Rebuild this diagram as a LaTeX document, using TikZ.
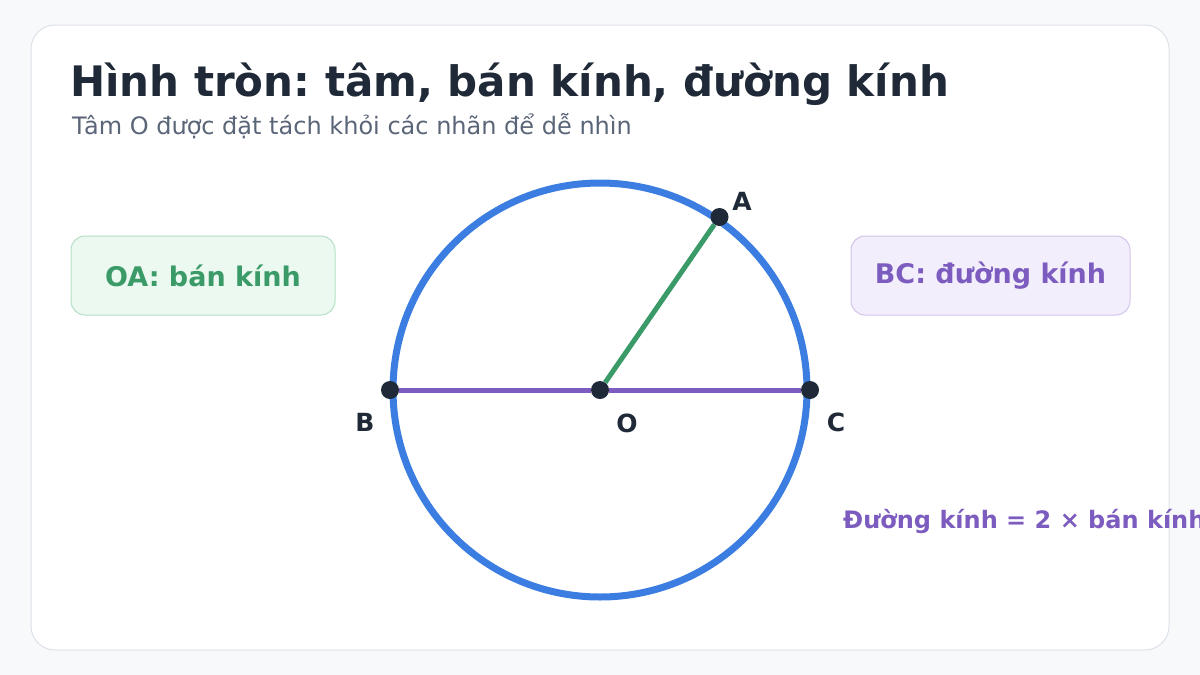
\documentclass[tikz,border=0pt]{standalone}
\usepackage{fontspec}
\setmainfont{DejaVu Sans}
\usetikzlibrary{positioning}
\frenchspacing
\definecolor{pagebg}{HTML}{F8F9FB}
\definecolor{cardline}{HTML}{DDE2EA}
\definecolor{ink}{HTML}{1F2937}
\definecolor{subink}{HTML}{5A6578}
\definecolor{ringblue}{HTML}{3B7DE0}
\definecolor{radgreen}{HTML}{3A9A68}
\definecolor{diampurple}{HTML}{7C5CBF}
\definecolor{greenfill}{HTML}{ECF9F1}
\definecolor{greenline}{HTML}{B5E0C4}
\definecolor{purplefill}{HTML}{F3EEFC}
\definecolor{purpleline}{HTML}{D3C4EC}

\begin{document}
\begin{tikzpicture}[x=1pt,y=-1pt]
  \tikzstyle{pt}=[circle, fill=ink, inner sep=0pt, minimum size=18pt]
  \tikzstyle{ptlabel}=[text=ink, font=\fontsize{25}{30}\selectfont\bfseries]
  \tikzstyle{infobox}=[rounded corners=14pt, line width=1pt, minimum height=79pt, font=\fontsize{27}{32}\selectfont\bfseries]

  % Nền và thẻ
  \useasboundingbox (0,0) rectangle (1200,675);
  \fill[pagebg] (0,0) rectangle (1200,675);
  \draw[cardline, fill=white, line width=1pt, rounded corners=24pt] (31,25) rectangle (1169,650);

  % Tiêu đề
  \node[anchor=base west, inner sep=0pt, text=ink, font=\fontsize{42}{50}\selectfont\bfseries] (title) at (70,96) {Hình tròn: tâm, bán kính, đường kính};
  \node[anchor=base west, inner sep=0pt, text=subink, font=\fontsize{24}{28}\selectfont] (subtitle) at (72,134) {Tâm O được đặt tách khỏi các nhãn để dễ nhìn};

  % Đường tròn
  \draw[ringblue, line width=7pt] (600,390) circle (207);

  % Các điểm
  \node[pt] (O) at (600,390) {};
  \node[pt] (A) at (719.5,217) {};
  \node[pt] (B) at (390,390) {};
  \node[pt] (C) at (810,390) {};

  % Đường kính và bán kính
  \draw[diampurple, line width=5pt] (B) -- (O);
  \draw[diampurple, line width=5pt] (O) -- (C);
  \draw[radgreen, line width=5pt] (O) -- (A);

  % Nhãn điểm
  \node[ptlabel] (labA) at (742,201) {A};
  \node[ptlabel] (labB) at (365,422) {B};
  \node[ptlabel] (labC) at (836,422) {C};
  \node[ptlabel] (labO) at (627,423) {O};

  % Hộp chú thích
  \node[infobox, draw=greenline, fill=greenfill, text=radgreen, minimum width=264pt] (radbox) at (203,275.5) {OA: bán kính};
  \node[infobox, draw=purpleline, fill=purplefill, text=diampurple, minimum width=279pt] (diambox) at (990.5,275.5) {BC: đường kính};

  % Công thức
  \node[anchor=base west, inner sep=0pt, text=diampurple, font=\fontsize{24}{28}\selectfont\bfseries] (formula) at (843,528) {Đường kính = 2 × bán kính};
\end{tikzpicture}
\end{document}
